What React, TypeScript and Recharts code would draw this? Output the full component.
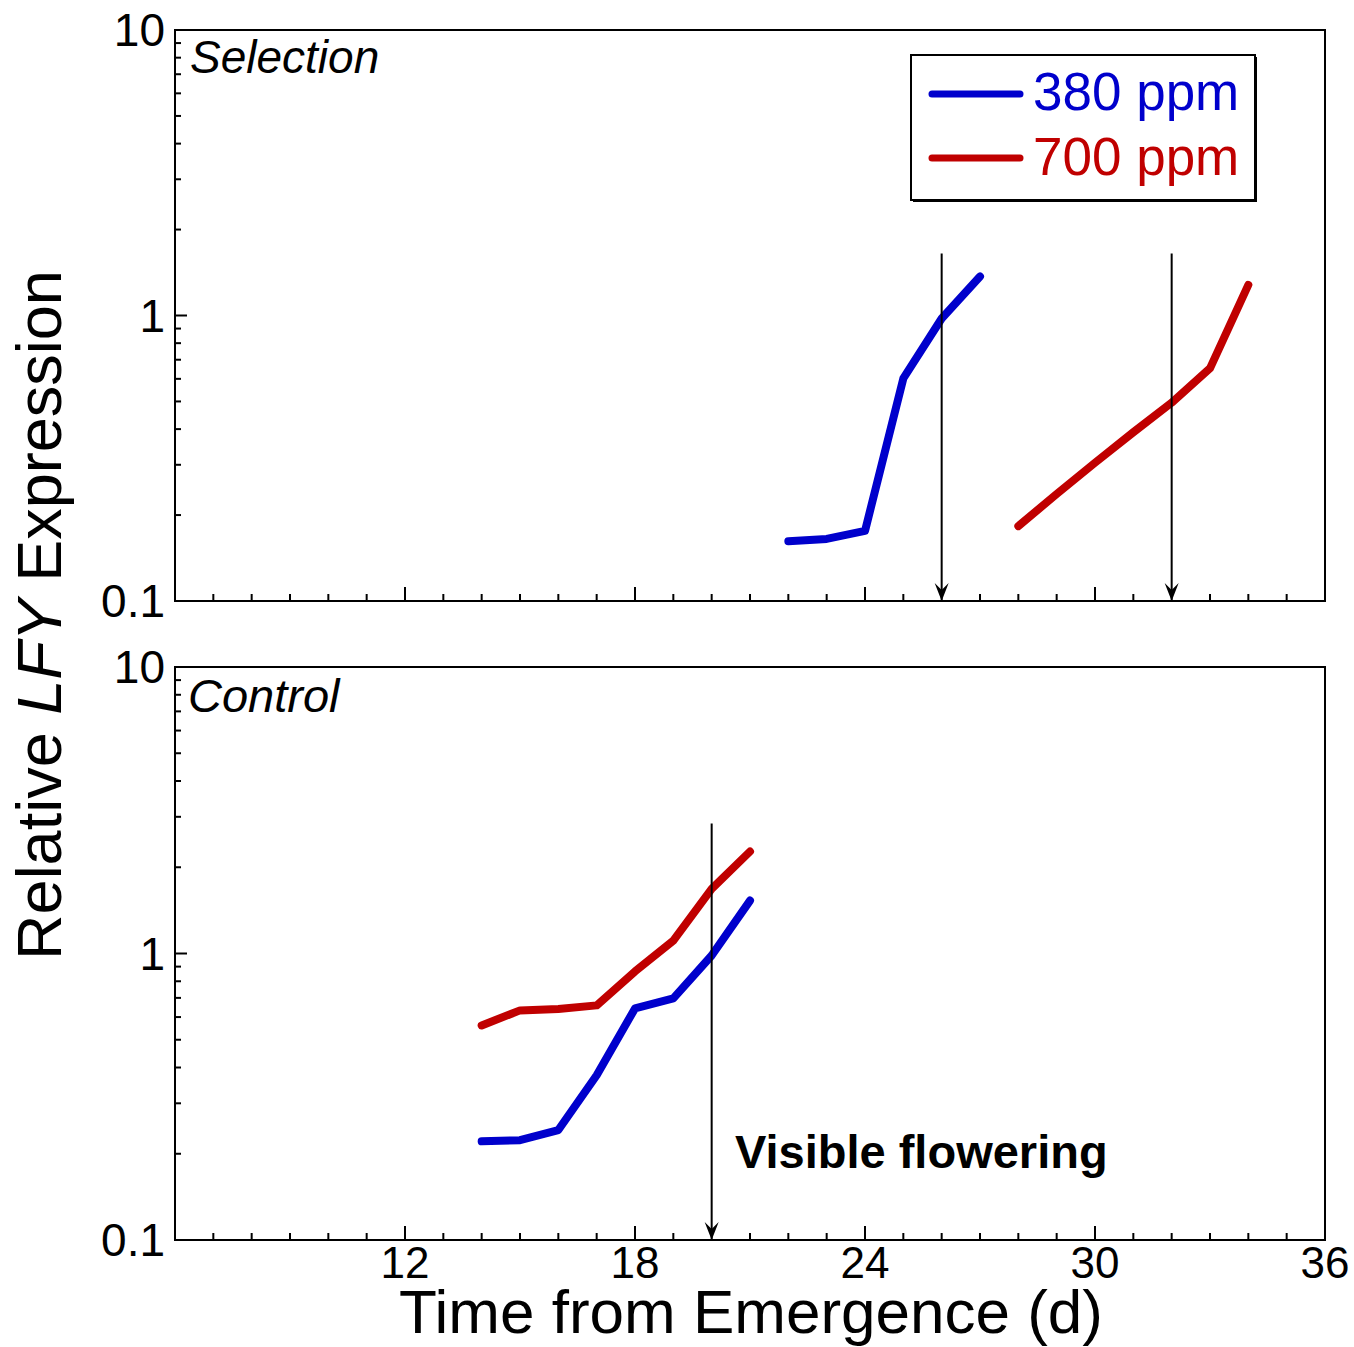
import React from 'react'
import { LineChart, Line, XAxis, YAxis, ReferenceLine, ReferenceArea } from 'recharts'

const FONT = '"Liberation Sans", Arial, sans-serif'
const BLUE = '#0000cc'
const RED = '#c00000'

const dayTicks = [6, 7, 8, 9, 10, 11, 12, 13, 14, 15, 16, 17, 18, 19, 20, 21, 22, 23, 24, 25, 26, 27, 28, 29, 30, 31, 32, 33, 34, 35, 36]
const labelledDays = [12, 18, 24, 30, 36]
const logTicks = [0.1, 0.2, 0.3, 0.4, 0.5, 0.6, 0.7, 0.8, 0.9, 1, 2, 3, 4, 5, 6, 7, 8, 9, 10]
const labelledLog = ['0.1', '1', '10']

const selectionDays380 = [22, 23, 24, 25, 26, 27]
const selection380 = [0.162, 0.165, 0.176, 0.602, 0.976, 1.37]
const selectionDays700 = [28, 29, 30, 31, 32, 33, 34]
const selection700 = [0.183, 0.237, 0.305, 0.39, 0.495, 0.653, 1.28]

const controlDays = [14, 15, 16, 17, 18, 19, 20, 21]
const control380 = [0.221, 0.223, 0.242, 0.376, 0.643, 0.697, 0.984, 1.53]
const control700 = [0.561, 0.633, 0.64, 0.659, 0.866, 1.11, 1.68, 2.27]

const selectionArrows = [26, 32]
const selectionArrowTop = 1.65
const controlArrows = [20]
const controlArrowTop = 2.84

const toRows = (days: number[], vals: number[]) => days.map((d, i) => ({ day: d, value: vals[i] }))

const DayTick = ({ x, y, payload, showLabel }: any) => {
  const v = payload.value
  const major = v % 6 === 0
  return (
    <g>
      <line x1={x} x2={x} y1={y} y2={y - (major ? 14 : 7)} stroke="#000" strokeWidth={2} />
      {showLabel && labelledDays.includes(v) && (
        <text x={x} y={y + 38} textAnchor="middle" fontSize={44} fontFamily={FONT} fill="#000">
          {v}
        </text>
      )}
    </g>
  )
}

const LogTick = ({ x, y, payload }: any) => {
  const label = String(payload.value)
  const major = labelledLog.includes(label)
  return (
    <g>
      <line x1={x} x2={x + (major ? 12 : 6)} y1={y} y2={y} stroke="#000" strokeWidth={2} />
      {major && (
        <text x={x - 10} y={y + 16} textAnchor="end" fontSize={46} fontFamily={FONT} fill="#000">
          {label}
        </text>
      )}
    </g>
  )
}

const ArrowShape = (props: any) => {
  const { x1, y1, x2, y2 } = props
  return (
    <g>
      <line x1={x1} y1={y1} x2={x2} y2={y2 - 6} stroke="#000" strokeWidth={2} />
      <path d={`M${x2},${y2} L${x2 - 7},${y2 - 18} L${x2},${y2 - 11} L${x2 + 7},${y2 - 18} Z`} fill="#000" />
    </g>
  )
}

function Panel({ height, margin, blue, red, arrows, arrowTop, showLabels }: any) {
  return (
    <LineChart width={1354} height={height} margin={margin}>
      <XAxis
        type="number"
        dataKey="day"
        domain={[6, 36]}
        ticks={dayTicks}
        interval={0}
        height={1}
        tickSize={0}
        tickMargin={0}
        axisLine={false}
        tickLine={false}
        allowDataOverflow
        tick={(p: any) => <DayTick {...p} showLabel={showLabels} />}
      />
      <YAxis
        type="number"
        scale="log"
        domain={[0.1, 10]}
        ticks={logTicks}
        interval={0}
        width={1}
        tickSize={0}
        tickMargin={0}
        axisLine={false}
        tickLine={false}
        allowDataOverflow
        tick={(p: any) => <LogTick {...p} />}
      />
      <ReferenceArea x1={6} x2={36} y1={0.1} y2={10} fill="none" fillOpacity={0} stroke="#000" strokeWidth={2} />
      <Line data={blue} dataKey="value" type="linear" stroke={BLUE} strokeWidth={8} dot={false} strokeLinecap="round" strokeLinejoin="round" isAnimationActive={false} />
      <Line data={red} dataKey="value" type="linear" stroke={RED} strokeWidth={8} dot={false} strokeLinecap="round" strokeLinejoin="round" isAnimationActive={false} />
      {arrows.map((d: number) => (
        <ReferenceLine
          key={d}
          segment={[{ x: d, y: arrowTop }, { x: d, y: 0.1 }]}
          stroke="#000"
          shape={ArrowShape}
        />
      ))}
    </LineChart>
  )
}

export default function App() {
  return (
    <div style={{ position: 'absolute', left: 0, top: 0, width: 1354, height: 1347, background: '#fff', fontFamily: FONT }}>
      <div style={{ position: 'absolute', left: 0, top: 0 }}>
        <Panel
          height={640}
          margin={{ top: 30, right: 29, bottom: 38, left: 174 }}
          blue={toRows(selectionDays380, selection380)}
          red={toRows(selectionDays700, selection700)}
          arrows={selectionArrows}
          arrowTop={selectionArrowTop}
          showLabels={false}
        />
      </div>
      <div style={{ position: 'absolute', left: 0, top: 640 }}>
        <Panel
          height={707}
          margin={{ top: 27, right: 29, bottom: 106, left: 174 }}
          blue={toRows(controlDays, control380)}
          red={toRows(controlDays, control700)}
          arrows={controlArrows}
          arrowTop={controlArrowTop}
          showLabels
        />
      </div>
      <svg width={1354} height={1347} style={{ position: 'absolute', left: 0, top: 0, pointerEvents: 'none' }} fontFamily={FONT}>
        <text x={190} y={73} fontSize={46} fontStyle="italic">Selection</text>
        <text x={188} y={712} fontSize={47} fontStyle="italic">Control</text>
        <text x={735} y={1168} fontSize={47} fontWeight="bold">Visible flowering</text>
        <text x={751} y={1333} fontSize={62} textAnchor="middle">Time from Emergence (d)</text>
        <text transform="translate(61,615) rotate(-90)" fontSize={63} textAnchor="middle">
          Relative <tspan fontStyle="italic">LFY</tspan> Expression
        </text>
        <rect x={913} y={57} width={344} height={145} fill="#000" />
        <rect x={911} y={55} width={344} height={145} fill="#fff" stroke="#000" strokeWidth={2} />
        <line x1={932} x2={1020} y1={94} y2={94} stroke={BLUE} strokeWidth={7} strokeLinecap="round" />
        <text x={1033} y={110} fontSize={53} fill={BLUE}>380 ppm</text>
        <line x1={932} x2={1020} y1={158} y2={158} stroke={RED} strokeWidth={7} strokeLinecap="round" />
        <text x={1033} y={175} fontSize={53} fill={RED}>700 ppm</text>
      </svg>
    </div>
  )
}
